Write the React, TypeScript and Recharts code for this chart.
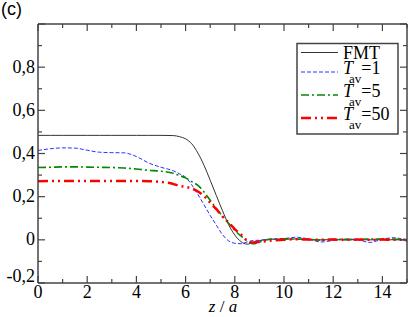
import { JSX } from 'react'
import { LineChart, Line, XAxis, YAxis } from 'recharts'

// z/a positions shared by every curve
const zValues = [
  0, 0.5, 1, 1.5, 2, 2.5, 3, 3.5, 4, 4.5, 5, 5.5, 5.75, 6, 6.25, 6.5, 6.75, 7, 7.25, 7.5, 7.75, 8,
  8.25, 8.5, 8.75, 9, 9.5, 10, 10.5, 11, 11.5, 12, 12.5, 13, 13.5, 14, 14.5, 15
]

const fmtValues = [
  0.484, 0.484, 0.484, 0.484, 0.484, 0.484, 0.484, 0.484, 0.484, 0.484, 0.484, 0.483, 0.478,
  0.468, 0.445, 0.402, 0.345, 0.276, 0.205, 0.135, 0.07, 0.022, -0.008, -0.02, -0.013, -0.004,
  0.003, 0.003, 0.004, 0.001, 0, 0.001, 0, 0.001, 0, 0.001, 0, 0
]

const tav1Values = [
  0.414, 0.422, 0.426, 0.425, 0.415, 0.406, 0.404, 0.403, 0.386, 0.356, 0.336, 0.32, 0.306, 0.29,
  0.255, 0.21, 0.162, 0.113, 0.068, 0.024, -0.005, -0.016, -0.018, -0.01, -0.003, -0.002, 0.003,
  0.006, 0.012, 0.004, -0.01, -0.003, 0.004, 0, -0.012, 0.003, 0.01, -0.008
]

const tav5Values = [
  0.335, 0.336, 0.338, 0.338, 0.337, 0.336, 0.335, 0.333, 0.328, 0.322, 0.318, 0.308, 0.298,
  0.287, 0.27, 0.252, 0.222, 0.183, 0.145, 0.11, 0.077, 0.044, 0.018, -0.005, -0.018, -0.01,
  0.004, 0.005, 0.003, 0.002, -0.002, 0.003, 0.001, 0.002, 0.004, 0.004, 0.003, 0.002
]

const tav50Values = [
  0.272, 0.273, 0.273, 0.273, 0.273, 0.273, 0.273, 0.273, 0.273, 0.272, 0.268, 0.259, 0.25,
  0.245, 0.238, 0.224, 0.203, 0.172, 0.142, 0.108, 0.08, 0.05, 0.025, -0.003, -0.012, -0.01,
  -0.003, 0, 0.003, 0.001, 0, 0.001, 0, 0.001, 0, 0.001, 0, 0
]

const xTicks = [0, 1, 2, 3, 4, 5, 6, 7, 8, 9, 10, 11, 12, 13, 14, 15]
const yTicks = [-0.2, -0.1, 0, 0.1, 0.2, 0.3, 0.4, 0.5, 0.6, 0.7, 0.8, 0.9, 1.0]

const data = zValues.map((z, i) => ({
  z,
  fmt: fmtValues[i],
  tav1: tav1Values[i],
  tav5: tav5Values[i],
  tav50: tav50Values[i]
}))

const FONT = '"Liberation Serif", "Times New Roman", serif'
const FRAME = '#444'
const serif = { fontFamily: FONT }

const styles = {
  fmt: { stroke: '#333', width: 1, dash: undefined },
  tav1: { stroke: '#3030ff', width: 1, dash: '4 2' },
  tav5: { stroke: '#008a00', width: 1.6, dash: '8 3 2 3' },
  tav50: { stroke: '#ff0000', width: 2.5, dash: '10 4 2 4 2 4' }
}

const isMajorX = (v: number) => v % 2 === 0
const isMajorY = (v: number) => Math.round(v * 10) % 2 === 0
const yLabel = (v: number) => (v === 0 ? '0' : v.toFixed(1).replace('.', ','))

function BottomTick(props: any): JSX.Element {
  const { x, y, payload } = props
  const v = payload.value
  const major = isMajorX(v)
  return (
    <g>
      <line x1={x} y1={y} x2={x} y2={y - (major ? 7 : 4)} stroke={FRAME} strokeWidth={1.2} />
      {major && (
        <text x={x} y={y + 15} textAnchor="middle" style={serif} fontSize={18} fill="#000">
          {v}
        </text>
      )}
    </g>
  )
}

function TopTick(props: any): JSX.Element {
  const { x, y, payload } = props
  const major = isMajorX(payload.value)
  return <line x1={x} y1={y} x2={x} y2={y + (major ? 7 : 4)} stroke={FRAME} strokeWidth={1.2} />
}

function LeftTick(props: any): JSX.Element {
  const { x, y, payload } = props
  const v = payload.value
  const major = isMajorY(v)
  const showLabel = major && v < 0.95
  return (
    <g>
      <line x1={x} y1={y} x2={x + (major ? 7 : 4)} y2={y} stroke={FRAME} strokeWidth={1.2} />
      {showLabel && (
        <text
          x={x - 3}
          y={v < -0.15 ? y - 1 : y + 5.5}
          textAnchor="end"
          style={serif}
          fontSize={18}
          fill="#000"
        >
          {yLabel(v)}
        </text>
      )}
    </g>
  )
}

function RightTick(props: any): JSX.Element {
  const { x, y, payload } = props
  const major = isMajorY(payload.value)
  return <line x1={x} y1={y} x2={x - (major ? 7 : 4)} y2={y} stroke={FRAME} strokeWidth={1.2} />
}

function LegendBox(): JSX.Element {
  const rows = [
    { key: 'fmt', label: 'FMT', sub: '', tail: '', ly: 52.5, ty: 58.5 },
    { key: 'tav1', label: 'T', sub: 'av', tail: '=1', ly: 72, ty: 73.5 },
    { key: 'tav5', label: 'T', sub: 'av', tail: '=5', ly: 95, ty: 96.5 },
    { key: 'tav50', label: 'T', sub: 'av', tail: '=50', ly: 118, ty: 119.5 }
  ] as const
  return (
    <svg
      width={409}
      height={317}
      style={{ position: 'absolute', left: 0, top: 0, pointerEvents: 'none' }}
    >
      <rect x={297} y={43.5} width={101} height={90.5} fill="#fff" stroke={FRAME} strokeWidth={1.5} />
      {rows.map((r) => {
        const s = styles[r.key]
        return (
          <g key={r.key}>
            <line
              x1={301}
              x2={338}
              y1={r.ly}
              y2={r.ly}
              stroke={s.stroke}
              strokeWidth={s.width}
              strokeDasharray={s.dash}
            />
            {r.sub ? (
              <text x={343} y={r.ty} style={serif} fontSize={18} fill="#000">
                <tspan fontStyle="italic">{r.label}</tspan>
                <tspan fontSize={13} dx={-4} dy={9}>
                  {r.sub}
                </tspan>
                <tspan dy={-9}>{r.tail}</tspan>
              </text>
            ) : (
              <text x={343} y={r.ty} style={serif} fontSize={18} fill="#000">
                {r.label}
              </text>
            )}
          </g>
        )
      })}
    </svg>
  )
}

export default function App(): JSX.Element {
  return (
    <div style={{ position: 'relative', width: 409, height: 317, background: '#fff' }}>
      <style>{'body{margin:0}'}</style>
      <LineChart width={409} height={317} data={data} margin={{ top: 23, right: 1, bottom: 33, left: 37 }}>
        <XAxis
          xAxisId="b"
          dataKey="z"
          type="number"
          domain={[0, 15]}
          ticks={xTicks}
          interval={0}
          height={1}
          tickSize={0}
          tickMargin={0}
          tickLine={false}
          axisLine={{ stroke: FRAME, strokeWidth: 1.5 }}
          tick={<BottomTick />}
          allowDataOverflow
        />
        <XAxis
          xAxisId="t"
          orientation="top"
          dataKey="z"
          type="number"
          domain={[0, 15]}
          ticks={xTicks}
          interval={0}
          height={1}
          tickSize={0}
          tickMargin={0}
          tickLine={false}
          axisLine={{ stroke: FRAME, strokeWidth: 1.5 }}
          tick={<TopTick />}
          allowDataOverflow
        />
        <YAxis
          yAxisId="l"
          type="number"
          domain={[-0.2, 1.0]}
          ticks={yTicks}
          interval={0}
          width={1}
          tickSize={0}
          tickMargin={0}
          tickLine={false}
          axisLine={{ stroke: FRAME, strokeWidth: 1.5 }}
          tick={<LeftTick />}
          allowDataOverflow
        />
        <YAxis
          yAxisId="r"
          orientation="right"
          type="number"
          domain={[-0.2, 1.0]}
          ticks={yTicks}
          interval={0}
          width={1}
          tickSize={0}
          tickMargin={0}
          tickLine={false}
          axisLine={{ stroke: FRAME, strokeWidth: 1.5 }}
          tick={<RightTick />}
          allowDataOverflow
        />
        {(['fmt', 'tav1', 'tav5', 'tav50'] as const).map((k) => (
          <Line
            key={k}
            xAxisId="b"
            yAxisId="l"
            type="monotone"
            dataKey={k}
            stroke={styles[k].stroke}
            strokeWidth={styles[k].width}
            strokeDasharray={styles[k].dash}
            dot={false}
            activeDot={false}
            isAnimationActive={false}
          />
        ))}
      </LineChart>
      <LegendBox />
      <div
        style={{
          position: 'absolute',
          left: 1,
          top: -1,
          fontFamily: '"Liberation Sans", Arial, sans-serif',
          fontSize: 18,
          lineHeight: '20px'
        }}
      >
        (c)
      </div>
      <svg width={409} height={317} style={{ position: 'absolute', left: 0, top: 0, pointerEvents: 'none' }}>
        <text x={223} y={312} textAnchor="middle" style={serif} fontSize={17} fill="#000">
          <tspan fontStyle="italic">z</tspan>
          <tspan> / </tspan>
          <tspan fontStyle="italic">a</tspan>
        </text>
      </svg>
    </div>
  )
}
